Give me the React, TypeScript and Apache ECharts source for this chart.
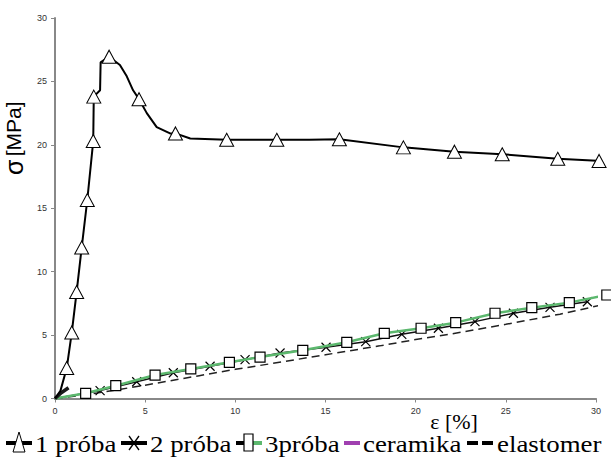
import React, { useEffect, useRef } from "react";
import * as echarts from "echarts";

const xTicks = [0, 5, 10, 15, 20, 25, 30];
const yTicks = [0, 5, 10, 15, 20, 25, 30];

const seriesNames = ["1 próba", "2 próba", "3próba", "ceramika", "elastomer"];

const p1Strain = [0, 0.3, 0.65, 0.93, 1.2, 1.48, 1.79, 2.12, 2.15, 2.5, 2.53, 3.0, 3.6, 3.98, 4.33, 4.66, 5.09, 5.64, 6.38, 6.68, 7.5, 9.52, 12.3, 14.1, 15.77, 19.32, 22.15, 24.8, 27.88, 30.17];
const p1Stress = [0, 0.6, 2.4, 5.2, 8.4, 11.9, 15.65, 20.3, 23.8, 24.3, 26.5, 26.95, 26.3, 25.4, 24.3, 23.6, 22.5, 21.4, 20.9, 20.9, 20.5, 20.4, 20.4, 20.4, 20.44, 19.8, 19.46, 19.26, 18.9, 18.73];
const p1Marked = [0, 0, 1, 1, 1, 1, 1, 1, 1, 0, 0, 1, 0, 0, 0, 1, 0, 0, 0, 1, 0, 1, 1, 0, 1, 1, 1, 1, 1, 1];

const p2Strain = [0, 2.5, 4.53, 6.56, 8.6, 10.54, 12.48, 15.03, 17.23, 19.23, 21.26, 23.29, 25.42, 27.45, 29.52];
const p2Stress = [0, 0.62, 1.32, 2.03, 2.54, 3.06, 3.59, 4.04, 4.48, 5.06, 5.54, 6.06, 6.72, 7.19, 7.63];

const p3Strain = [0, 1.7, 3.37, 5.55, 7.53, 9.67, 11.37, 13.74, 16.18, 18.26, 20.3, 22.22, 24.4, 26.44, 28.52, 30.6];
const p3Stress = [0, 0.41, 1.01, 1.85, 2.33, 2.85, 3.27, 3.8, 4.43, 5.14, 5.54, 5.98, 6.72, 7.16, 7.56, 8.16];

const ceramStrain = [0, 0.35, 0.75];
const ceramStress = [0, 0.45, 0.85];

const elaStrain = [0, 2, 5, 8, 10, 12, 15, 18, 20, 22, 25, 28, 30.4];
const elaStress = [0, 0.35, 1.05, 1.8, 2.3, 2.75, 3.45, 4.15, 4.65, 5.1, 5.85, 6.65, 7.4];

const xAxisTitle = "ε [%]";

const xMarkPath = "path://M0,0L10,10M10,0L0,10";
const serifFont = "Liberation Serif";
const purple = "#a040b0";
const green = "#5cb86e";

// legend layout (pixels)
const legendY = 443;
const legendTextX = [35, 150, 265, 363, 497];

export default function App() {
  const ref = useRef<HTMLDivElement>(null);
  useEffect(() => {
    if (!ref.current) return;
    const chart = echarts.init(ref.current, undefined, { renderer: "svg" });
    const pairs = (xs: number[], ys: number[]) => xs.map((x, i) => [x, ys[i]]);
    const p1Data = p1Strain.map((x, i) =>
      p1Marked[i] ? { value: [x, p1Stress[i]] } : { value: [x, p1Stress[i]], symbol: "none" }
    );
    const p2Data = p2Strain.map((x, i) =>
      i === 0 ? { value: [x, p2Stress[i]], symbol: "none" } : { value: [x, p2Stress[i]] }
    );
    const p3Data = p3Strain.map((x, i) =>
      i === 0 ? { value: [x, p3Stress[i]], symbol: "none" } : { value: [x, p3Stress[i]] }
    );

    const y = legendY;
    const seg = (x1: number, x2: number, color: string, dash?: number[]) => ({
      type: "line",
      shape: { x1, y1: y, x2, y2: y },
      style: { stroke: color, lineWidth: 4, lineDash: dash },
      z: 10,
    });
    const legendGraphics: any[] = [
      seg(6, 32, "#000"),
      {
        type: "polygon",
        shape: { points: [[13, y + 9], [25, y + 9], [19, y - 11]] },
        style: { fill: "#fff", stroke: "#000", lineWidth: 1 },
        z: 11,
      },
      seg(121, 147, "#000"),
      { type: "line", shape: { x1: 129, y1: y - 7, x2: 139, y2: y + 7 }, style: { stroke: "#000", lineWidth: 1.3 }, z: 11 },
      { type: "line", shape: { x1: 139, y1: y - 7, x2: 129, y2: y + 7 }, style: { stroke: "#000", lineWidth: 1.3 }, z: 11 },
      seg(236, 249, "#000"),
      seg(249, 262, green),
      {
        type: "rect",
        shape: { x: 244, y: y - 9, width: 9, height: 17 },
        style: { fill: "#fff", stroke: "#000", lineWidth: 1.2 },
        z: 11,
      },
      seg(344, 360, purple),
      { type: "line", shape: { x1: 467, y1: y, x2: 478, y2: y }, style: { stroke: "#000", lineWidth: 4 }, z: 10 },
      { type: "line", shape: { x1: 482, y1: y, x2: 493, y2: y }, style: { stroke: "#000", lineWidth: 4 }, z: 10 },
      ...seriesNames.map((name, i) => ({
        type: "text",
        x: legendTextX[i],
        y: y + 1,
        scaleX: 1.12,
        style: {
          text: name,
          fontFamily: serifFont,
          fontSize: 24,
          fill: "#000",
          textAlign: "left",
          textVerticalAlign: "middle",
        },
        z: 12,
      })),
      {
        type: "text",
        x: 454,
        y: 421,
        style: {
          text: xAxisTitle,
          fontFamily: serifFont,
          fontSize: 22,
          fill: "#000",
          textAlign: "center",
          textVerticalAlign: "middle",
        },
        z: 12,
      },
    ];

    chart.setOption({
      animation: false,
      backgroundColor: "#ffffff",
      grid: { left: 55, right: 15, top: 18, bottom: 62.5, containLabel: false, outerBoundsMode: "none" },
      graphic: legendGraphics,
      xAxis: {
        type: "value",
        min: xTicks[0],
        max: xTicks[xTicks.length - 1],
        interval: 5,
        axisLine: { show: true, lineStyle: { color: "#888", width: 2 } },
        axisTick: { show: true, length: 4, lineStyle: { color: "#888", width: 1 } },
        axisLabel: { fontSize: 9, color: "#333", fontFamily: "Liberation Sans", margin: 8 },
        splitLine: { show: false },
      },
      yAxis: {
        type: "value",
        min: yTicks[0],
        max: yTicks[yTicks.length - 1],
        interval: 5,
        name: "{s|σ} {t|[MPa]}",
        nameLocation: "middle",
        nameRotate: 90,
        nameGap: 29,
        nameMoveOverlap: false,
        nameTextStyle: {
          color: "#000",
          fontFamily: "Liberation Sans",
          padding: [0, 0, 0, 140],
          rich: {
            s: { fontSize: 25, fontFamily: "Liberation Sans", color: "#000" },
            t: { fontSize: 21, fontFamily: "Liberation Sans", color: "#000" },
          },
        },
        axisLine: { show: true, lineStyle: { color: "#888", width: 2 } },
        axisTick: { show: true, length: 4, lineStyle: { color: "#888", width: 1 } },
        axisLabel: { fontSize: 9, color: "#333", fontFamily: "Liberation Sans", margin: 8 },
        splitLine: { show: false },
      },
      series: [
        {
          name: seriesNames[4],
          type: "line",
          data: pairs(elaStrain, elaStress),
          symbol: "none",
          clip: false,
          lineStyle: { color: "#222", width: 1.5, type: [8, 5] },
          itemStyle: { color: "#222" },
          z: 2,
        },
        {
          name: seriesNames[1],
          type: "line",
          data: p2Data,
          symbol: xMarkPath,
          symbolSize: 9,
          showAllSymbol: true,
          clip: false,
          lineStyle: { color: "#111", width: 1.5 },
          itemStyle: { color: "#fff", borderColor: "#000", borderWidth: 1.2 },
          z: 3,
        },
        {
          name: seriesNames[2],
          type: "line",
          data: p3Data,
          symbol: "rect",
          symbolSize: 10,
          showAllSymbol: true,
          clip: false,
          lineStyle: { color: green, width: 2.5 },
          itemStyle: { color: "#fff", borderColor: "#000", borderWidth: 1.2 },
          z: 4,
        },
        {
          name: seriesNames[3],
          type: "line",
          data: pairs(ceramStrain, ceramStress),
          symbol: "none",
          clip: false,
          lineStyle: { color: "#1a1a1a", width: 3.5 },
          itemStyle: { color: purple },
          z: 5,
        },
        {
          name: seriesNames[0],
          type: "line",
          data: p1Data,
          symbol: "triangle",
          symbolSize: [14, 13],
          showAllSymbol: true,
          clip: false,
          lineStyle: { color: "#000", width: 2 },
          itemStyle: { color: "#fff", borderColor: "#000", borderWidth: 1 },
          z: 6,
        },
      ],
    });
    return () => chart.dispose();
  }, []);
  return <div ref={ref} style={{ width: 611, height: 461, position: "absolute", left: 0, top: 0 }} />;
}
